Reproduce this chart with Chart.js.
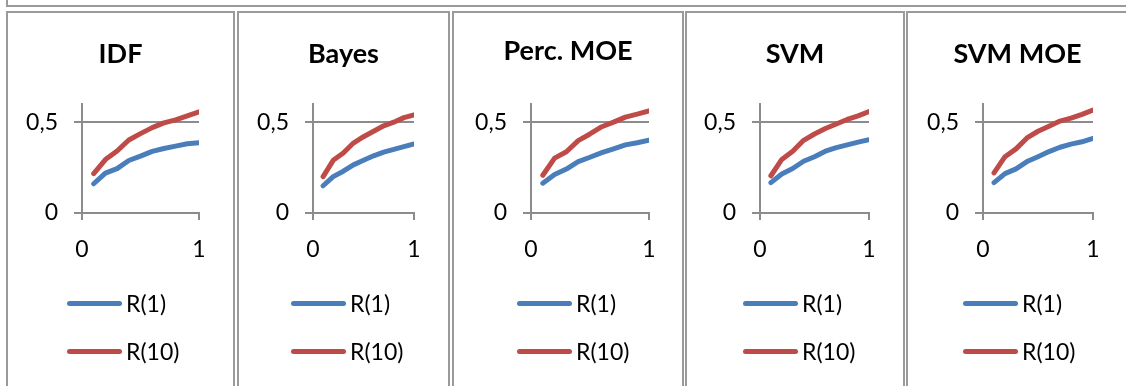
<!DOCTYPE html>
<html>
<head>
<meta charset="utf-8">
<script src="https://cdn.jsdelivr.net/npm/chart.js@4.4.1/dist/chart.umd.min.js"></script>
<style>
  html, body { margin: 0; padding: 0; background: #fff; overflow: hidden; }
  body { width: 1126px; height: 386px; position: relative; font-family: Lato, "Open Sans", sans-serif; }
  .frame { position: absolute; box-sizing: border-box; border: 2px solid #9a9a9a; }
  canvas { position: absolute; }
  .legend-item { position: absolute; display: flex; align-items: center; height: 30px; font-size: 23px; color: #000; white-space: nowrap; }
  .legend-line { display: inline-block; width: 55px; height: 5px; border-radius: 3px; margin-right: 4px; }
</style>
</head>
<body>
<script>
// Recall values per training fraction, one pair of series per method
const xValues = [0.1, 0.2, 0.3, 0.4, 0.5, 0.6, 0.7, 0.8, 0.9, 1.0];
const methodNames = ['IDF', 'Bayes', 'Perc. MOE', 'SVM', 'SVM MOE'];
const seriesNames = ['R(1)', 'R(10)'];

const r1IDF     = [0.161, 0.220, 0.244, 0.289, 0.313, 0.339, 0.355, 0.368, 0.381, 0.387];
const r10IDF    = [0.217, 0.294, 0.341, 0.402, 0.437, 0.470, 0.496, 0.513, 0.535, 0.557];
const r1Bayes   = [0.150, 0.200, 0.230, 0.265, 0.290, 0.315, 0.335, 0.350, 0.365, 0.380];
const r10Bayes  = [0.200, 0.290, 0.330, 0.385, 0.420, 0.450, 0.480, 0.500, 0.525, 0.540];
const r1Perc    = [0.164, 0.212, 0.242, 0.283, 0.307, 0.332, 0.353, 0.375, 0.387, 0.401];
const r10Perc   = [0.208, 0.302, 0.337, 0.398, 0.435, 0.475, 0.500, 0.528, 0.544, 0.562];
const r1SVM     = [0.167, 0.215, 0.245, 0.285, 0.310, 0.340, 0.360, 0.375, 0.390, 0.403];
const r10SVM    = [0.205, 0.295, 0.340, 0.400, 0.435, 0.465, 0.490, 0.515, 0.535, 0.558];
const r1SVMMOE  = [0.167, 0.217, 0.243, 0.283, 0.310, 0.338, 0.362, 0.379, 0.392, 0.411];
const r10SVMMOE = [0.221, 0.310, 0.353, 0.413, 0.450, 0.478, 0.506, 0.522, 0.543, 0.567];

const yTickValues = [0, 0.5];
const xTickValues = [0, 1];

const r1Series = [r1IDF, r1Bayes, r1Perc, r1SVM, r1SVMMOE];
const r10Series = [r10IDF, r10Bayes, r10Perc, r10SVM, r10SVMMOE];

// Page geometry of each panel: frame edges, y-axis x, x=1 position, legend x, title centre
const panelLayout = [
  { left: 7,   right: 234,  axisX: 82,  endX: 199,  legendX: 67,  titleY: 54 },
  { left: 238, right: 449,  axisX: 313, endX: 414,  legendX: 291, titleY: 54 },
  { left: 453, right: 683,  axisX: 531, endX: 649,  legendX: 517, titleY: 51 },
  { left: 686, right: 904,  axisX: 760, endX: 869,  legendX: 743, titleY: 54 },
  { left: 907, right: 1128, axisX: 983, endX: 1093, legendX: 963, titleY: 54 }
];

const BLUE = '#4a7ebb';
const RED = '#be4b48';
const AXIS = '#8c8c8c';
const FONT = 'Lato';
const TITLE_SIZE = 27;
const TICK_SIZE = 23;
const CANVAS_TOP = 13;
const CANVAS_H = 373;
const PLOT_TOP = 104;     // page y of the 0.6 edge
const PLOT_BOTTOM = 213;  // page y of the 0 line
const X_AXIS_H = 60;

Chart.defaults.font.family = FONT;
Chart.defaults.color = '#000';

// stretch the title box over the whole canvas so it sits in the middle of the panel
const centreTitle = {
  id: 'centreTitle',
  afterLayout(chart) {
    const t = chart.titleBlock;
    if (t) { t.left = 0; t.right = chart.width; t.width = chart.width; }
  }
};

// outer frame line along the top
const topFrame = document.createElement('div');
topFrame.className = 'frame';
Object.assign(topFrame.style, { left: '6px', top: '-12px', width: '1130px', height: '19px' });
document.body.appendChild(topFrame);

const fmt = v => String(v).replace('.', ',');

methodNames.forEach((name, i) => {
  const p = panelLayout[i];

  const frame = document.createElement('div');
  frame.className = 'frame';
  Object.assign(frame.style, {
    left: (p.left - 1) + 'px', top: '11px',
    width: (p.right - p.left + 2) + 'px', height: '400px'
  });
  document.body.appendChild(frame);

  const canvasLeft = p.left + 1;
  const cw = p.right - p.left - 2;
  const canvas = document.createElement('canvas');
  canvas.width = cw;
  canvas.height = CANVAS_H;
  Object.assign(canvas.style, { left: canvasLeft + 'px', top: CANVAS_TOP + 'px', width: cw + 'px', height: CANVAS_H + 'px' });
  document.body.appendChild(canvas);

  const lh = TITLE_SIZE * 1.2;
  const padTop = p.titleY - CANVAS_TOP - lh / 2;
  const padBottom = (PLOT_TOP - CANVAS_TOP) - padTop - lh;

  const toPoints = arr => xValues.map((x, k) => ({ x, y: arr[k] }));

  const chart = new Chart(canvas, {
    type: 'line',
    data: {
      datasets: [
        { label: seriesNames[0], data: toPoints(r1Series[i]), borderColor: BLUE, backgroundColor: BLUE },
        { label: seriesNames[1], data: toPoints(r10Series[i]), borderColor: RED, backgroundColor: RED }
      ]
    },
    plugins: [centreTitle],
    options: {
      responsive: false,
      animation: false,
      events: [],
      elements: {
        line: { borderWidth: 5, tension: 0, borderCapStyle: 'round', borderJoinStyle: 'round' },
        point: { radius: 0 }
      },
      layout: {
        padding: { left: 0, top: 0, right: (canvasLeft + cw) - p.endX, bottom: CANVAS_H - (PLOT_BOTTOM - CANVAS_TOP) - X_AXIS_H }
      },
      plugins: {
        legend: { display: false },
        tooltip: { enabled: false },
        title: {
          display: true,
          text: name,
          color: '#000',
          font: { family: FONT, size: TITLE_SIZE, weight: 'bold' },
          padding: { top: padTop, bottom: padBottom }
        }
      },
      scales: {
        x: {
          type: 'linear',
          min: 0, max: 1,
          afterBuildTicks: s => { s.ticks = xTickValues.map(v => ({ value: v })); },
          afterFit: s => { s.height = X_AXIS_H; },
          ticks: { font: { size: TICK_SIZE }, padding: 16, maxRotation: 0, callback: v => fmt(v) },
          grid: { drawOnChartArea: false, drawTicks: true, tickLength: 7, color: AXIS, lineWidth: 2 },
          border: { color: AXIS, width: 2 }
        },
        y: {
          type: 'linear',
          min: 0, max: 0.6,
          afterBuildTicks: s => { s.ticks = yTickValues.map(v => ({ value: v })); },
          afterFit: s => { s.width = p.axisX - canvasLeft; },
          ticks: { font: { size: TICK_SIZE }, padding: 16, callback: v => fmt(v) },
          grid: { drawOnChartArea: true, drawTicks: true, tickLength: 8, color: AXIS, lineWidth: 2 },
          border: { color: AXIS, width: 2 }
        }
      }
    }
  });

  // legend stacked vertically, built from the chart's datasets
  chart.data.datasets.forEach((ds, k) => {
    const item = document.createElement('div');
    item.className = 'legend-item';
    item.style.left = p.legendX + 'px';
    item.style.top = (303 + k * 48 - 15) + 'px';
    const line = document.createElement('span');
    line.className = 'legend-line';
    line.style.background = ds.borderColor;
    const label = document.createElement('span');
    label.textContent = ds.label;
    item.appendChild(line);
    item.appendChild(label);
    document.body.appendChild(item);
  });
});
</script>
</body>
</html>
